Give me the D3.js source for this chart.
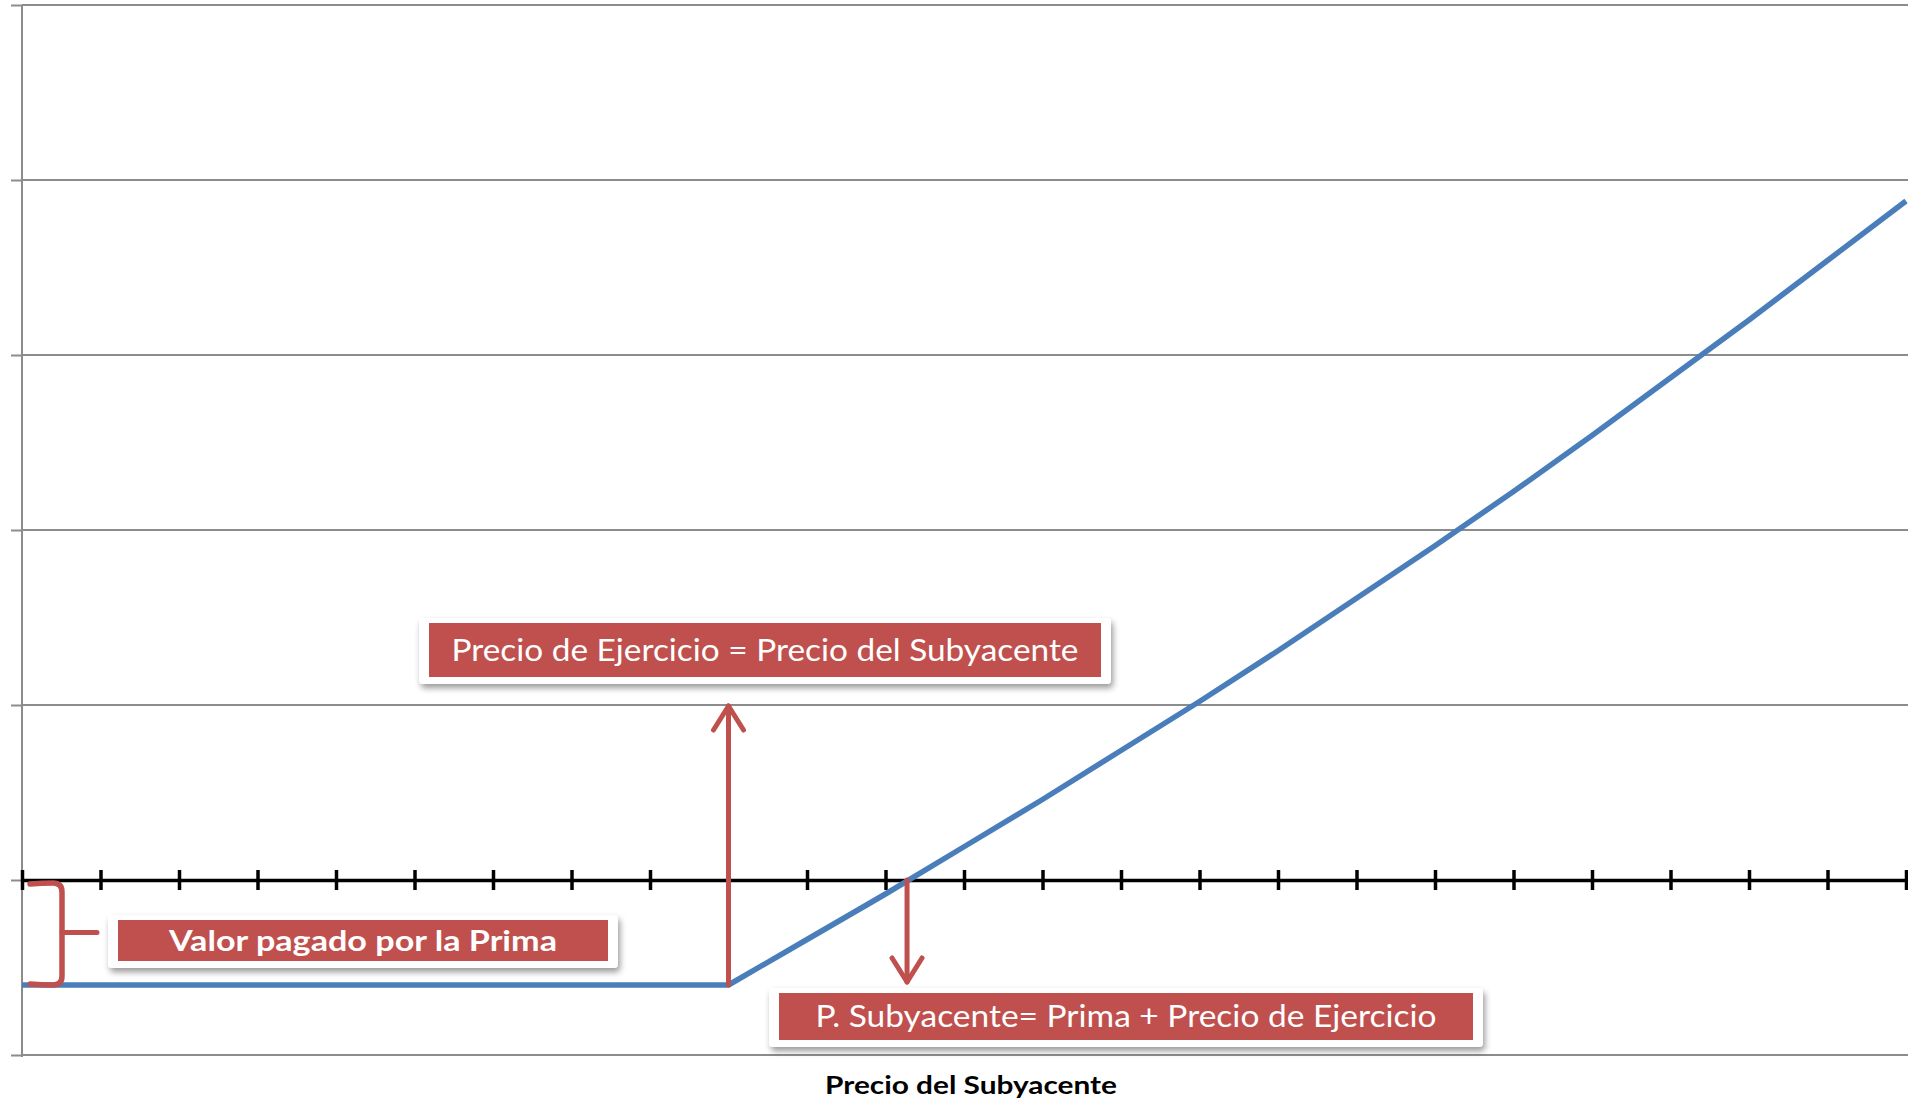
<!DOCTYPE html>
<html>
<head>
<meta charset="utf-8">
<script src="https://cdn.jsdelivr.net/npm/d3@7"></script>
<style>
  html, body { margin: 0; padding: 0; background: #ffffff; }
  svg { display: block; }
</style>
</head>
<body>
<script>
// ---- Data ----
const categories = [0,1,2,3,4,5,6,7,8,9,10,11,12,13,14,15,16,17,18,19,20,21,22,23,24];
const payoff = [-0.6,-0.6,-0.6,-0.6,-0.6,-0.6,-0.6,-0.6,-0.6,-0.6,-0.34,-0.08,0.19,0.46,0.74,1.02,1.31,1.61,1.91,2.22,2.54,2.87,3.20,3.54,3.88];
const yTicks = [-1,0,1,2,3,4,5];
const strike = 9;
const premium = 0.6;
const breakeven = 11.3;
const labelStrike = "Precio de Ejercicio = Precio del Subyacente";
const labelPremium = "Valor pagado por la Prima";
const labelBreakeven = "P. Subyacente= Prima + Precio de Ejercicio";
const xTitle = "Precio del Subyacente";

// ---- Layout ----
const W = 1908, H = 1103;
const svg = d3.select("body").append("svg").attr("width", W).attr("height", H);

const defs = svg.append("defs");
const f = defs.append("filter").attr("id", "shadow").attr("x", "-10%").attr("y", "-30%").attr("width", "120%").attr("height", "170%");
f.append("feDropShadow").attr("dx", 2).attr("dy", 4).attr("stdDeviation", 3).attr("flood-color", "#000").attr("flood-opacity", 0.4);

const x = d3.scaleLinear().domain([0, 24]).range([22, 1906]);
const y = d3.scaleLinear().domain([-1, 5]).range([1055, 5]);

const red = "#c0504d";
const blue = "#4a7ebb";
const grid = "#8c8c8c";

// gridlines + y axis ticks
const yAxis = d3.axisLeft(y).tickValues(yTicks).tickSize(11).tickFormat("");
const gy = svg.append("g").attr("transform", `translate(${x(0)},0)`).call(yAxis);
gy.select(".domain").remove();
gy.selectAll(".tick line").attr("stroke", grid).attr("stroke-width", 2);

svg.append("g").selectAll("line.grid").data(yTicks.filter(d => d !== 0)).join("line")
  .attr("x1", x(0)).attr("x2", x(24) + 2)
  .attr("y1", d => y(d)).attr("y2", d => y(d))
  .attr("stroke", grid).attr("stroke-width", 2);

// y axis line
svg.append("line").attr("x1", x(0)).attr("x2", x(0)).attr("y1", y(5)).attr("y2", y(-1) + 2)
  .attr("stroke", grid).attr("stroke-width", 2);

// x axis (zero line) with crossing ticks
const xAxis = d3.axisBottom(x).tickValues(categories).tickFormat("").tickSizeOuter(0);
const gx = svg.append("g").attr("transform", `translate(0,${y(0)})`).call(xAxis);
gx.select(".domain").attr("stroke", "#000").attr("stroke-width", 3.5);
gx.selectAll(".tick line").attr("y1", -10).attr("y2", 10).attr("stroke", "#000").attr("stroke-width", 3.5);

// payoff line
const line = d3.line().x((d, i) => x(categories[i])).y(d => y(d));
svg.append("path").datum(payoff).attr("d", line)
  .attr("fill", "none").attr("stroke", blue).attr("stroke-width", 5.5).attr("stroke-linejoin", "round");

// ---- Annotations ----
const ann = svg.append("g").attr("stroke", red).attr("fill", "none").attr("stroke-width", 5).attr("stroke-linecap", "round").attr("stroke-linejoin", "round");

// up arrow at strike
const sx = x(strike);
ann.append("line").attr("x1", sx).attr("x2", sx).attr("y1", y(-premium)).attr("y2", y(1) + 1);
ann.append("path").attr("d", `M${sx - 15},${y(1) + 25} L${sx},${y(1) + 1} L${sx + 15},${y(1) + 25}`);

// down arrow at breakeven
const bx = x(breakeven) - 2;
ann.append("line").attr("x1", bx).attr("x2", bx).attr("y1", y(0)).attr("y2", y(-premium) - 3);
ann.append("path").attr("d", `M${bx - 15},${y(-premium) - 27} L${bx},${y(-premium) - 3} L${bx + 15},${y(-premium) - 27}`);

// curly brace for premium
const b0 = x(0) + 8, b1 = x(0) + 40, bTop = y(0) + 3, bBot = y(-premium), bMid = y(-premium / 2);
ann.append("path").attr("stroke-width", 5.5).attr("d",
  `M${b0},${bTop + 1} Q${b0 + 12},${bTop} ${b1 - 9},${bTop} Q${b1},${bTop} ${b1},${bTop + 9} L${b1},${bBot - 9} Q${b1},${bBot} ${b1 - 9},${bBot} Q${b0 + 12},${bBot} ${b0},${bBot - 1}`);
ann.append("line").attr("x1", b1).attr("x2", b1 + 35).attr("y1", bMid).attr("y2", bMid);

// label boxes
function labelBox(cx, rTop, rW, rH, text, opts) {
  const g = svg.append("g");
  g.append("rect").attr("x", cx - rW / 2 - 10).attr("y", rTop - 5).attr("width", rW + 20).attr("height", rH + 12)
    .attr("rx", 4).attr("fill", "#ffffff").attr("filter", "url(#shadow)");
  g.append("rect").attr("x", cx - rW / 2).attr("y", rTop).attr("width", rW).attr("height", rH).attr("fill", red);
  g.append("text").attr("x", cx).attr("y", rTop + rH / 2 + opts.fs * 0.36)
    .attr("text-anchor", "middle").attr("fill", "#ffffff")
    .attr("font-family", "Lato, 'Open Sans', sans-serif")
    .attr("font-size", opts.fs).attr("font-weight", opts.bold ? 700 : 400)
    .attr("textLength", opts.tl).attr("lengthAdjust", "spacingAndGlyphs")
    .text(text);
}
labelBox(765, 623, 672, 54, labelStrike, { fs: 30, tl: 627 });
labelBox(363, 920, 490, 41, labelPremium, { fs: 28, bold: true, tl: 388 });
labelBox(1126, 993, 694, 47, labelBreakeven, { fs: 30, tl: 621 });

// x axis title
svg.append("text").attr("x", 971).attr("y", 1094).attr("text-anchor", "middle")
  .attr("font-family", "Lato, 'Open Sans', sans-serif").attr("font-weight", 700).attr("font-size", 25)
  .attr("fill", "#000").attr("textLength", 292).attr("lengthAdjust", "spacingAndGlyphs")
  .text(xTitle);
</script>
</body>
</html>
